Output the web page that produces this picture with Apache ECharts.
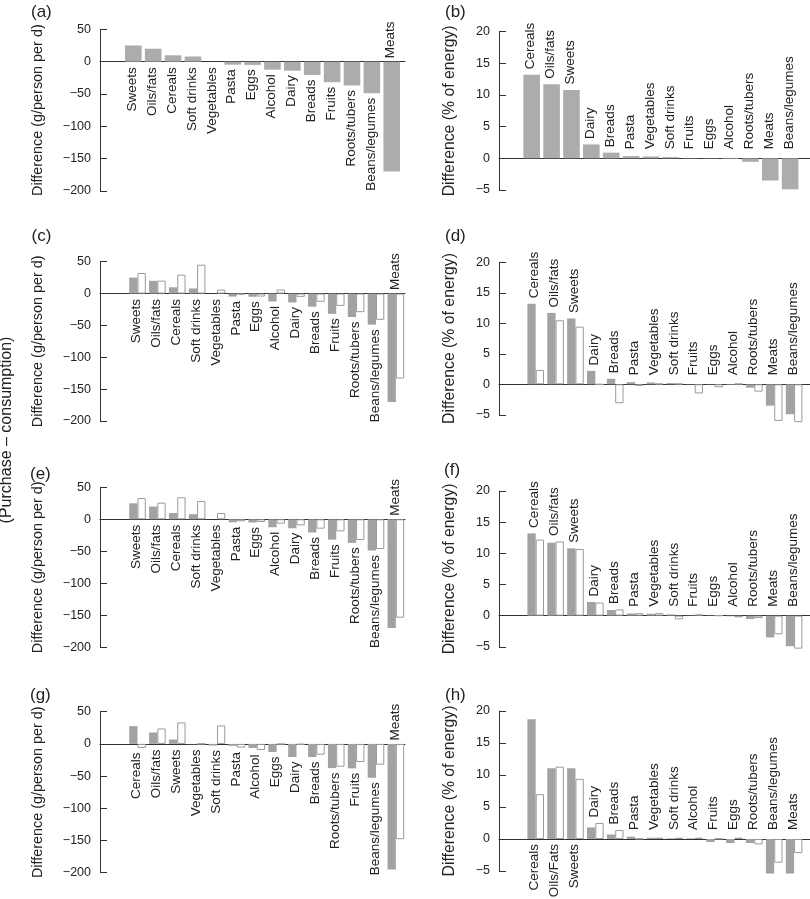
<!DOCTYPE html>
<html><head><meta charset="utf-8">
<script src="https://cdn.jsdelivr.net/npm/echarts@6/dist/echarts.min.js"></script>
<style>html,body{margin:0;padding:0;background:#fff}#c{width:810px;height:899px}</style>
</head><body><div id="c"></div>
<script>
// ---- data ----
const catsA = ['Sweets','Oils/fats','Cereals','Soft drinks','Vegetables','Pasta','Eggs','Alcohol','Dairy','Breads','Fruits','Roots/tubers','Beans/legumes','Meats'];
const purchaseGramsA = [25, 20, 9.8, 8, 0, -4.7, -5, -12.4, -14, -20.6, -31.8, -36.8, -48.8, -170];
const consumptionC = [32.3, 20.3, 29.7, 45.3, 6.3, -1.6, -4.7, 6.3, -5.2, -13, -19.3, -29.2, -41.2, -133.4];
const consumptionE = [33.3, 26, 34.4, 28.6, 9.9, -3.1, -4.2, -6.8, -9.4, -14.6, -18.8, -32.3, -46.4, -153.7];

const catsB = ['Cereals','Oils/fats','Sweets','Dairy','Breads','Pasta','Vegetables','Soft drinks','Fruits','Eggs','Alcohol','Roots/tubers','Meats','Beans/legumes'];
const purchaseEnergyB = [13.2, 11.7, 10.8, 2.2, 0.9, 0.35, 0.3, 0.2, 0.05, -0.05, -0.1, -0.55, -3.5, -4.9];
const consumptionD = [2.35, 10.5, 9.45, 0, -3.1, -0.27, 0.1, 0.1, -1.5, -0.5, 0.1, -1.2, -6.0, -6.2];
const consumptionF = [12.2, 11.9, 10.7, 2.1, 1.0, 0.4, 0.4, -0.6, 0.2, 0, -0.27, -0.4, -3.0, -5.3];

const catsG = ['Cereals','Oils/fats','Sweets','Vegetables','Soft drinks','Pasta','Alcohol','Eggs','Dairy','Breads','Roots/tubers','Fruits','Beans/legumes','Meats'];
const purchaseG = [27.6, 17.7, 6.8, -0.5, -2.6, -3.1, -6.3, -12.5, -20.3, -20.3, -37.5, -38, -52.6, -195];
const consumptionG = [-6.3, 24, 33.3, 0, 28.6, -5.7, -9.4, -0.5, -1, -16.7, -35.4, -28.1, -32.3, -148];

const catsH = ['Cereals','Oils/Fats','Sweets','Dairy','Breads','Pasta','Vegetables','Soft drinks','Alcohol','Fruits','Eggs','Roots/tubers','Beans/legumes','Meats'];
const purchaseH = [18.7, 11.05, 11.05, 1.8, 0.7, 0.37, 0.2, 0.1, 0.1, -0.47, -0.63, -0.63, -5.4, -5.4];
const consumptionH = [7.0, 11.3, 9.4, 2.5, 1.4, 0.05, 0.2, 0.2, 0.2, 0.05, 0.2, -0.84, -3.7, -2.2];

const gramAxis = {min: -200, max: 50, interval: 50};
const energyAxis = {min: -5, max: 20, interval: 5};
const gramName = 'Difference (g/person per d)';
const energyName = 'Difference (% of energy)';
const sideTitle = '(Purchase \u2013 consumption)';

// ---- layout / style ----
const FONT = '"Liberation Sans", Arial, Helvetica, sans-serif';
const GREY_SINGLE = '#acacac';
const GREY_PAIR = '#a2a2a2';
const INK = '#222';
const AXIS = '#333';

const panels = [
  {letter:'(a)', lx:31, ly:12, cats:catsA, data:[purchaseGramsA], ax:gramAxis, name:gramName, col:0, top:29.3, bottom:191, xMin:-1.675, xMax:13.667, mode:'below'},
  {letter:'(b)', lx:445, ly:12, cats:catsB, data:[purchaseEnergyB], ax:energyAxis, name:energyName, col:1, top:31.7, bottom:190, xMin:-1.645, xMax:14.0, mode:'above', belowCount:0},
  {letter:'(c)', lx:31.5, ly:236, cats:catsA, data:[purchaseGramsA, consumptionC], ax:gramAxis, name:gramName, col:0, top:261.7, bottom:421, xMin:-1.887, xMax:13.46, mode:'below'},
  {letter:'(d)', lx:445, ly:236, cats:catsB, data:[purchaseEnergyB, consumptionD], ax:energyAxis, name:energyName, col:1, top:262.3, bottom:414.8, xMin:-1.846, xMax:13.8, mode:'above', belowCount:0},
  {letter:'(e)', lx:30, ly:474, cats:catsA, data:[purchaseGramsA, consumptionE], ax:gramAxis, name:gramName, col:0, top:487.3, bottom:647.3, xMin:-1.887, xMax:13.46, mode:'below'},
  {letter:'(f)', lx:444, ly:470, cats:catsB, data:[purchaseEnergyB, consumptionF], ax:energyAxis, name:energyName, col:1, top:491, bottom:646.8, xMin:-1.846, xMax:13.8, mode:'above', belowCount:0},
  {letter:'(g)', lx:30, ly:695, cats:catsG, data:[purchaseG, consumptionG], ax:gramAxis, name:gramName, col:0, top:711.7, bottom:872.7, xMin:-1.887, xMax:13.46, mode:'below'},
  {letter:'(h)', lx:445, ly:695, cats:catsH, data:[purchaseH, consumptionH], ax:energyAxis, name:energyName, col:1, top:711, bottom:871, xMin:-1.846, xMax:13.8, mode:'above', belowCount:3}
];

const grids = [], xAxes = [], yAxes = [], series = [], graphics = [];

panels.forEach((p, k) => {
  const left = p.col === 0 ? 100 : 499;
  const width = p.col === 0 ? 305 : 311;
  grids.push({left: left, width: width, top: p.top, height: p.bottom - p.top, containLabel: false});
  xAxes.push({
    gridIndex: k, type: 'value', min: p.xMin, max: p.xMax,
    axisLine: {show: true, onZero: true, lineStyle: {color: AXIS, width: 1}},
    axisTick: {show: false}, axisLabel: {show: false}, splitLine: {show: false}
  });
  yAxes.push({
    gridIndex: k, type: 'value', min: p.ax.min, max: p.ax.max, interval: p.ax.interval,
    position: 'left',
    name: p.name, nameLocation: 'middle', nameGap: p.col === 0 ? 55 : 41,
    nameTextStyle: {fontFamily: FONT, fontSize: p.col === 0 ? 14.4 : 15.8, color: INK},
    axisLine: {show: true, onZero: false, lineStyle: {color: AXIS, width: 1}},
    axisTick: {show: true, inside: true, length: 7, lineStyle: {color: AXIS}},
    axisLabel: {margin: 9, fontFamily: FONT, fontSize: 12.5, color: INK,
      formatter: v => String(v).replace('-', '\u2212')},
    splitLine: {show: false}
  });
  const paired = p.data.length > 1;
  p.data.forEach((vals, s) => {
    series.push({
      type: 'bar', xAxisIndex: k, yAxisIndex: k, clip: false, silent: true,
      barWidth: paired ? 8.3 : 16.6, barGap: '0%',
      data: vals.map((v, i) => [i, v]),
      itemStyle: s === 0 ? {color: paired ? GREY_PAIR : GREY_SINGLE}
                         : {color: '#fff', borderColor: '#9a9a9a', borderWidth: 1}
    });
  });
  // category labels, placed through the axes' scales
  const labelData = p.cats.map((c, i) => {
    const vs = p.data.map(a => a[i]);
    return [i, Math.max.apply(null, vs), Math.min.apply(null, vs)];
  });
  series.push({
    type: 'custom', xAxisIndex: k, yAxisIndex: k, silent: true, z: 5,
    encode: {x: 0, y: 1},
    data: labelData,
    renderItem: (params, api) => {
      const i = api.value(0), hi = api.value(1), lo = api.value(2);
      const z = api.coord([i, 0]);
      const x = z[0], zeroY = z[1];
      const hiY = api.coord([i, hi])[1];
      const loY = api.coord([i, lo])[1];
      let y, align;
      if (p.mode === 'below') {
        if (lo < -100) { y = zeroY - 3.5; align = 'left'; }
        else { y = Math.max(loY, zeroY + 1) + 4.5; align = 'right'; }
      } else {
        if (i < p.belowCount) { y = zeroY + 5; align = 'right'; }
        else { y = Math.min(hiY, zeroY - 3.5) - 5.5; align = 'left'; }
      }
      return {
        type: 'text', x: x - 1, y: y, rotation: Math.PI / 2,
        style: {text: p.cats[i], fill: INK, fontSize: 13.5, fontFamily: FONT, align: align, verticalAlign: 'middle'}
      };
    }
  });
  graphics.push({
    type: 'text', x: p.lx, y: p.ly,
    style: {text: p.letter, fill: INK, fontSize: 17, fontFamily: FONT, align: 'left', verticalAlign: 'middle'}
  });
});

graphics.push({
  type: 'text', x: 7, y: 430, rotation: Math.PI / 2,
  style: {text: sideTitle, fill: INK, fontSize: 16, fontFamily: FONT, align: 'center', verticalAlign: 'middle'}
});

const chart = echarts.init(document.getElementById('c'), null, {renderer: 'canvas'});
chart.setOption({
  animation: false,
  backgroundColor: '#fff',
  grid: grids, xAxis: xAxes, yAxis: yAxes, series: series,
  graphic: graphics
});
</script></body></html>
